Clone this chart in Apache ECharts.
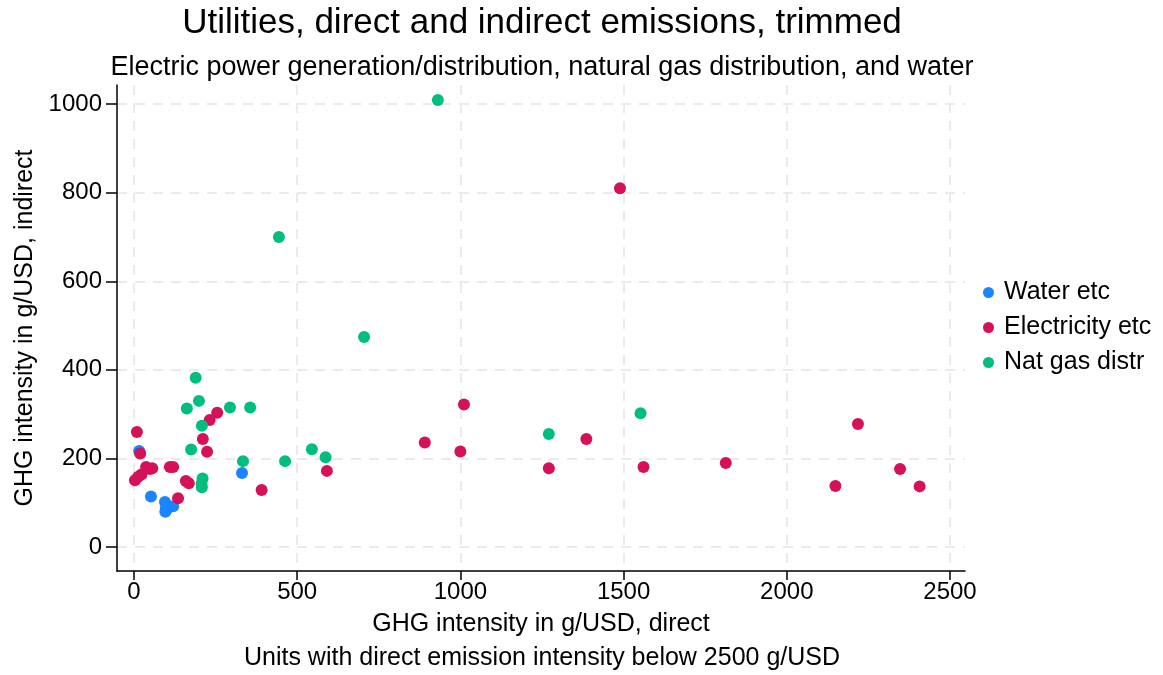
<!DOCTYPE html>
<html>
<head>
<meta charset="utf-8">
<script src="https://cdn.jsdelivr.net/npm/echarts@6/dist/echarts.min.js"></script>
<style>html,body{margin:0;padding:0;background:#fff}#c{width:1163px;height:675px}</style>
</head>
<body>
<div id="c"></div>
<script>
const seriesNames = ['Water etc', 'Electricity etc', 'Nat gas distr'];
const colors = ['#1A85FF', '#D41159', '#00BF7D'];
const waterX = [16, 331, 52, 95, 98, 105, 120, 96, 100];
const waterY = [217, 167, 114, 102, 88, 90, 92, 80, 84];
const elecX = [1489, 1011, 891, 1000, 591, 1386, 1271, 1561, 1813, 2218, 2149, 2347, 2407,
  9, 19, 255, 232, 211, 224, 391, 135, 159, 168, 110, 120, 3, 13, 23, 37, 49, 56];
const elecY = [810, 322, 236, 216, 172, 244, 178, 181, 190, 278, 138, 176, 137,
  260, 211, 303, 287, 244, 215, 129, 110, 149, 144, 181, 181, 151, 159, 164, 181, 176, 178];
const gasX = [931, 444, 705, 189, 199, 162, 294, 356, 208, 175, 334, 463, 545, 587, 210, 207, 208, 1271, 1552];
const gasY = [1009, 700, 474, 382, 330, 313, 315, 315, 274, 220, 194, 194, 221, 203, 155, 143, 135, 255, 302];
const xTicks = [0, 500, 1000, 1500, 2000, 2500];
const yTicks = [0, 200, 400, 600, 800, 1000];

const zip = (a, b) => a.map((v, i) => [v, b[i]]);
const seriesData = [zip(waterX, waterY), zip(elecX, elecY), zip(gasX, gasY)];

const chart = echarts.init(document.getElementById('c'), null, {renderer: 'canvas'});
const font = 'Liberation Sans, Arial, sans-serif';
const gridLine = {show: true, lineStyle: {color: '#ebebeb', width: 2, type: [10, 8]}};
chart.setOption({
  animation: false,
  backgroundColor: '#fff',
  textStyle: {fontFamily: font},
  grid: {left: 117, top: 85, right: 198, bottom: 104, containLabel: false},
  xAxis: {
    type: 'value', min: -52, max: 2546,
    name: 'GHG intensity in g/USD, direct', nameLocation: 'middle', nameGap: 41,
    nameTextStyle: {fontSize: 25, color: '#000', fontFamily: font},
    axisLine: {show: true, onZero: false, lineStyle: {color: '#000', width: 1.5}},
    axisTick: {show: true, length: 9, customValues: xTicks, lineStyle: {color: '#000', width: 1.5}},
    axisLabel: {customValues: xTicks, fontSize: 24, color: '#000', margin: 9, fontFamily: font, formatter: v => String(v)},
    splitLine: gridLine
  },
  yAxis: {
    type: 'value', min: -54, max: 1043,
    name: 'GHG intensity in g/USD, indirect', nameLocation: 'middle', nameGap: 74, nameRotate: 90,
    nameTextStyle: {fontSize: 25, color: '#000', fontFamily: font},
    axisLine: {show: true, onZero: false, lineStyle: {color: '#000', width: 1.5}},
    axisTick: {show: true, length: 11, customValues: yTicks, lineStyle: {color: '#000', width: 1.5}},
    axisLabel: {customValues: yTicks, fontSize: 24, color: '#000', margin: 15, fontFamily: font, formatter: v => String(v)},
    splitLine: gridLine
  },
  legend: {
    orient: 'vertical', left: 978, top: 275, itemGap: 10, icon: 'circle',
    itemWidth: 11, itemHeight: 11,
    textStyle: {fontSize: 25, color: '#000', fontFamily: font, padding: [0, 0, 0, 5]},
    data: seriesNames
  },
  graphic: [
    {type: 'text', x: 542, y: 23, style: {text: 'Utilities, direct and indirect emissions, trimmed', fontSize: 35, fontFamily: font, fill: '#000', textAlign: 'center', textVerticalAlign: 'middle'}},
    {type: 'text', x: 542, y: 68, style: {text: 'Electric power generation/distribution, natural gas distribution, and water', fontSize: 27, fontFamily: font, fill: '#000', textAlign: 'center', textVerticalAlign: 'middle'}},
    {type: 'text', x: 542, y: 658, style: {text: 'Units with direct emission intensity below 2500 g/USD', fontSize: 25, fontFamily: font, fill: '#000', textAlign: 'center', textVerticalAlign: 'middle'}}
  ],
  series: seriesNames.map((n, i) => ({
    name: n, type: 'scatter', data: seriesData[i], symbolSize: 12,
    itemStyle: {color: colors[i], opacity: 1}
  }))
});
</script>
</body>
</html>
